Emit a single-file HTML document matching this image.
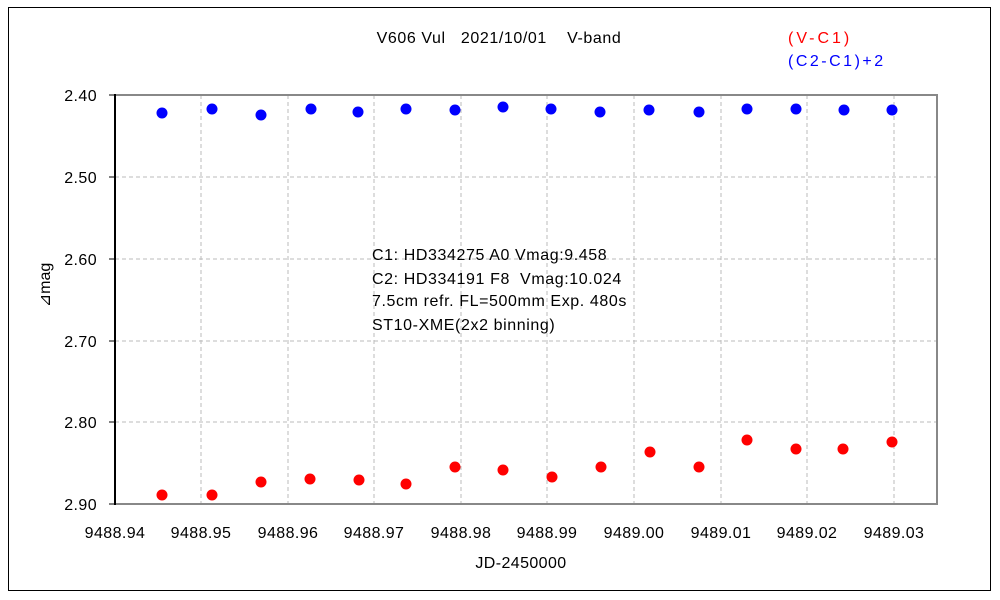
<!DOCTYPE html><html><head><meta charset="utf-8"><style>body{margin:0;background:#fff}svg{display:block}text{font-family:"Liberation Sans",sans-serif;font-size:16px}.t{letter-spacing:0.4px}.a{letter-spacing:0.6px}</style></head><body>
<svg width="1000" height="600" xmlns="http://www.w3.org/2000/svg">
<rect x="8.5" y="7.5" width="982" height="583" fill="#fff" stroke="#000"/>
<g stroke="#bbb" stroke-dasharray="4,3">
<line x1="201" y1="95" x2="201" y2="504"/><line x1="288" y1="95" x2="288" y2="504"/><line x1="374" y1="95" x2="374" y2="504"/><line x1="461" y1="95" x2="461" y2="504"/><line x1="547" y1="95" x2="547" y2="504"/><line x1="634" y1="95" x2="634" y2="504"/><line x1="721" y1="95" x2="721" y2="504"/><line x1="807" y1="95" x2="807" y2="504"/><line x1="894" y1="95" x2="894" y2="504"/>
<line x1="115" y1="177" x2="937" y2="177"/><line x1="115" y1="259" x2="937" y2="259"/><line x1="115" y1="341" x2="937" y2="341"/><line x1="115" y1="422" x2="937" y2="422"/>
</g>
<rect x="115" y="95" width="822" height="409" fill="none" stroke="#888" stroke-width="2"/>
<line x1="115" y1="94" x2="115" y2="505" stroke="#000" stroke-width="2"/>
<g stroke="#000"><line x1="109" y1="95" x2="115" y2="95"/><line x1="109" y1="177" x2="115" y2="177"/><line x1="109" y1="259" x2="115" y2="259"/><line x1="109" y1="341" x2="115" y2="341"/><line x1="109" y1="422" x2="115" y2="422"/><line x1="109" y1="504" x2="115" y2="504"/></g>
<g text-anchor="end" class="t"><text x="97" y="101">2.40</text><text x="97" y="183">2.50</text><text x="97" y="265">2.60</text><text x="97" y="347">2.70</text><text x="97" y="428">2.80</text><text x="97" y="510">2.90</text></g>
<g text-anchor="middle" class="t"><text x="115" y="538">9488.94</text><text x="201" y="538">9488.95</text><text x="288" y="538">9488.96</text><text x="374" y="538">9488.97</text><text x="461" y="538">9488.98</text><text x="547" y="538">9488.99</text><text x="634" y="538">9489.00</text><text x="721" y="538">9489.01</text><text x="807" y="538">9489.02</text><text x="894" y="538">9489.03</text>
<text x="521" y="568">JD-2450000</text>
<text x="499" y="43" class="a">V606 Vul&#160;&#160; 2021/10/01&#160;&#160;&#160; V-band</text></g>
<text x="50" y="285" transform="rotate(-90 50 285)" text-anchor="middle">⊿mag</text>
<text x="788" y="43" fill="#f00" style="letter-spacing:3px">(V-C1)</text><text x="788" y="66" fill="#00f" style="letter-spacing:2.5px">(C2-C1)+2</text>
<g class="a"><text x="372" y="260">C1: HD334275 A0 Vmag:9.458</text><text x="372" y="284">C2: HD334191 F8&#160; Vmag:10.024</text><text x="372" y="306">7.5cm refr. FL=500mm Exp. 480s</text><text x="372" y="330">ST10-XME(2x2 binning)</text></g>
<g fill="#00f"><circle cx="162" cy="113" r="5.5"/><circle cx="212" cy="109" r="5.5"/><circle cx="261" cy="115" r="5.5"/><circle cx="311" cy="109" r="5.5"/><circle cx="358" cy="112" r="5.5"/><circle cx="406" cy="109" r="5.5"/><circle cx="455" cy="110" r="5.5"/><circle cx="503" cy="107" r="5.5"/><circle cx="551" cy="109" r="5.5"/><circle cx="600" cy="112" r="5.5"/><circle cx="649" cy="110" r="5.5"/><circle cx="699" cy="112" r="5.5"/><circle cx="747" cy="109" r="5.5"/><circle cx="796" cy="109" r="5.5"/><circle cx="844" cy="110" r="5.5"/><circle cx="892" cy="110" r="5.5"/></g>
<g fill="#f00"><circle cx="162" cy="495" r="5.5"/><circle cx="212" cy="495" r="5.5"/><circle cx="261" cy="482" r="5.5"/><circle cx="310" cy="479" r="5.5"/><circle cx="359" cy="480" r="5.5"/><circle cx="406" cy="484" r="5.5"/><circle cx="455" cy="467" r="5.5"/><circle cx="503" cy="470" r="5.5"/><circle cx="552" cy="477" r="5.5"/><circle cx="601" cy="467" r="5.5"/><circle cx="650" cy="452" r="5.5"/><circle cx="699" cy="467" r="5.5"/><circle cx="747" cy="440" r="5.5"/><circle cx="796" cy="449" r="5.5"/><circle cx="843" cy="449" r="5.5"/><circle cx="892" cy="442" r="5.5"/></g>
</svg></body></html>
